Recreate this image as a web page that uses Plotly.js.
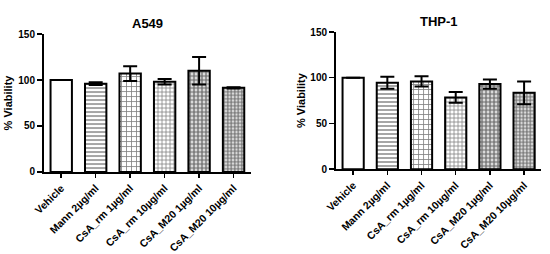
<!DOCTYPE html>
<html>
<head>
<meta charset="utf-8">
<script src="https://cdn.plot.ly/plotly-3.0.1.min.js"></script>
<style>
  html, body { margin: 0; padding: 0; background: #fff; }
  #chart { width: 550px; height: 254px; }
</style>
</head>
<body>
<div id="chart"></div>
<script>
// treatments shown on both panels
const categories = ["Vehicle", "Mann 2µg/ml", "CsA_rm 1µg/ml", "CsA_rm 10µg/ml", "CsA_M20 1µg/ml", "CsA_M20 10µg/ml"];

// % viability
const a549_values = [100, 96, 107, 98, 110, 91.5];
const a549_errors = [0, 1.5, 8, 3, 15, 0.7];

const thp1_values = [100, 94.5, 96, 78.5, 93, 83.5];
const thp1_errors = [0, 6.5, 5.5, 6, 5, 12.5];

const y_ticks = [0, 50, 100, 150];

// Prism-like fill patterns, one per treatment
const pattern_shapes = ["", "-", "+", "+", ".", "."];
const pattern_sizes = [8, 4, 5, 4, 4, 3.5];
const pattern_solidity = [0, 0.35, 0.3, 0.35, 0.7, 0.7];

const font_family = "Liberation Sans, Arial, sans-serif";

const make_bars = (values, errors, xaxis, yaxis) => ({
  type: "bar",
  x: categories,
  y: values,
  xaxis: xaxis,
  yaxis: yaxis,
  width: 0.62,
  showlegend: false,
  marker: {
    color: "white",
    line: { color: "black", width: 2 },
    pattern: {
      shape: pattern_shapes,
      size: pattern_sizes,
      solidity: pattern_solidity,
      fgcolor: "black",
      bgcolor: "white",
      fillmode: "overlay",
    },
  },
  error_y: {
    type: "data",
    array: errors,
    visible: true,
    color: "black",
    thickness: 2,
    width: 7,
  },
});

const x_axis_style = (domain, anchor) => ({
  domain: domain,
  anchor: anchor,
  type: "category",
  range: [-0.5, 5.5],
  showline: true,
  linecolor: "black",
  linewidth: 2,
  ticks: "outside",
  ticklen: 4,
  tickwidth: 1.5,
  tickcolor: "black",
  tickangle: -45,
  tickfont: { family: font_family, size: 10.5, color: "black", weight: "bold" },
  showgrid: false,
  zeroline: false,
  fixedrange: true,
});

const y_axis_style = (domain, anchor) => ({
  domain: domain,
  anchor: anchor,
  range: [0, 150],
  tickvals: y_ticks,
  showline: true,
  linecolor: "black",
  linewidth: 2,
  ticks: "outside",
  ticklen: 5,
  tickwidth: 1.5,
  tickcolor: "black",
  tickfont: { family: font_family, size: 10, color: "black", weight: "bold" },
  title: {
    text: "% Viability",
    font: { family: font_family, size: 11, color: "black", weight: "bold" },
    standoff: 3,
  },
  showgrid: false,
  zeroline: false,
  fixedrange: true,
});

const data = [
  make_bars(a549_values, a549_errors, "x", "y"),
  make_bars(thp1_values, thp1_errors, "x2", "y2"),
];

const layout = {
  width: 550,
  height: 254,
  margin: { l: 0, r: 0, t: 0, b: 0 },
  paper_bgcolor: "white",
  plot_bgcolor: "white",
  xaxis: x_axis_style([0.08, 0.456], "y"),
  yaxis: y_axis_style([0.323, 0.866], "x"),
  xaxis2: x_axis_style([0.611, 0.984], "y2"),
  yaxis2: y_axis_style([0.334, 0.874], "x2"),
  annotations: [
    {
      text: "A549",
      xref: "x domain", yref: "paper",
      x: 0.5, y: 1 - 14 / 254,
      showarrow: false,
      font: { family: font_family, size: 13, color: "black", weight: "bold" },
    },
    {
      text: "THP-1",
      xref: "x2 domain", yref: "paper",
      x: 0.5, y: 1 - 12 / 254,
      showarrow: false,
      font: { family: font_family, size: 13, color: "black", weight: "bold" },
    },
  ],
};

Plotly.newPlot("chart", data, layout, { staticPlot: true });
</script>
</body>
</html>
